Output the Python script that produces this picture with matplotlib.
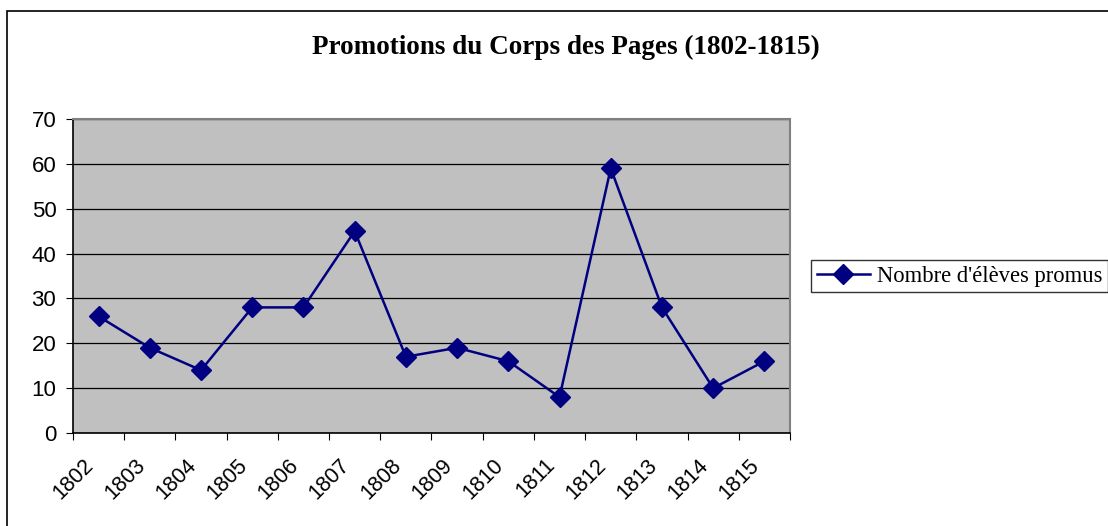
import matplotlib
matplotlib.use('Agg')
from matplotlib import pyplot as plt
from matplotlib.patches import Rectangle
from matplotlib.transforms import ScaledTranslation

years = ['1802', '1803', '1804', '1805', '1806', '1807', '1808',
         '1809', '1810', '1811', '1812', '1813', '1814', '1815']
promus = [26, 19, 14, 28, 28, 45, 17, 19, 16, 8, 59, 28, 10, 16]
y_ticks = [0, 10, 20, 30, 40, 50, 60, 70]

fig = plt.figure(figsize=(11.08, 5.26), dpi=100)
ax = fig.add_axes([73 / 1108, 1 - 433 / 526, (790 - 73) / 1108, (433 - 119) / 526])
ax.set_facecolor('#c0c0c0')

# cadre extérieur du graphique
fig.patches.append(Rectangle((7 / 1108, -0.1), 1.1, 1.1 - 11 / 526,
                             transform=fig.transFigure, fill=False,
                             edgecolor='black', linewidth=1.2))

x = [i + 0.5 for i in range(len(years))]
line = ax.plot(x, promus, color='#000080', linewidth=1.8, marker='D',
               markersize=10, markerfacecolor='#000080', markeredgecolor='#000080')

ax.set_xlim(0, len(years))
ax.set_ylim(0, 70)
ax.set_yticks(y_ticks)
ax.set_xticks(range(len(years) + 1))
ax.set_xticks(x, minor=True)
ax.set_xticklabels([''] * (len(years) + 1))
ax.set_xticklabels(years, minor=True, rotation=45, ha='right', va='center',
                   rotation_mode='anchor', fontfamily='Liberation Sans', fontsize=15.5)
ax.tick_params(axis='x', which='minor', length=0, pad=21)
ax.tick_params(axis='x', which='major', length=5, direction='out', color='black')
ax.tick_params(axis='y', length=5, direction='out', labelsize=16, pad=7)
for lab in ax.get_yticklabels():
    lab.set_fontfamily('Liberation Sans')
# léger décalage à gauche des années, comme dans Excel
shift = ScaledTranslation(-8 / 100, 0, fig.dpi_scale_trans)
for lab in ax.get_xticklabels(minor=True):
    lab.set_transform(lab.get_transform() + shift)

ax.yaxis.grid(True, color='black', linewidth=0.9)
ax.set_axisbelow(True)
for s in ['top', 'right']:
    ax.spines[s].set_color('#808080')
    ax.spines[s].set_linewidth(1.5)
for s in ['left', 'bottom']:
    ax.spines[s].set_color('black')
    ax.spines[s].set_linewidth(1.2)

fig.text(566 / 1108, 1 - 47 / 526, 'Promotions du Corps des Pages (1802-1815)',
         ha='center', va='center', fontfamily='Liberation Serif',
         fontweight='bold', fontsize=19.5)

leg = fig.legend(line, ["Nombre d'élèves promus"], loc='upper left',
                 bbox_to_anchor=(811 / 1108, 1 - 260 / 526),
                 prop={'family': 'Liberation Serif', 'size': 16.3},
                 frameon=True, fancybox=False, borderaxespad=0,
                 handlelength=2.35, handletextpad=0.3, borderpad=0.25)
leg.get_frame().set_edgecolor('black')
leg.get_frame().set_linewidth(1.0)

plt.savefig('out.png', dpi=100)
